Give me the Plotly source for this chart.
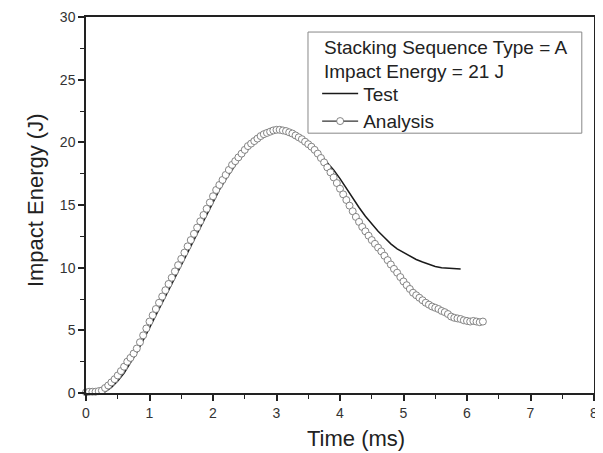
import plotly.graph_objects as go

# ---- data ----
test_time = [0.25, 0.3, 0.4, 0.5, 0.6, 0.7, 0.8, 0.9, 1.0, 1.1, 1.2, 1.3, 1.4, 1.5, 1.6,
             1.7, 1.8, 1.9, 2.0, 2.1, 2.2, 2.3, 2.4, 2.5, 2.6, 2.7, 2.8, 2.9, 3.0, 3.1,
             3.2, 3.3, 3.4, 3.5, 3.6, 3.7, 3.8, 3.9, 4.0, 4.1, 4.2, 4.3, 4.4, 4.5, 4.6,
             4.7, 4.8, 4.9, 5.0, 5.1, 5.2, 5.3, 5.4, 5.5, 5.6, 5.7, 5.8, 5.9]
test_energy = [0.0, 0.1, 0.45, 0.95, 1.6, 2.4, 3.25, 4.2, 5.2, 6.2, 7.2, 8.2, 9.2, 10.25, 11.25,
               12.25, 13.25, 14.25, 15.25, 16.2, 17.05, 17.85, 18.55, 19.15, 19.7, 20.15, 20.5, 20.8, 20.95, 21.0,
               20.9, 20.65, 20.3, 19.9, 19.45, 18.95, 18.4, 17.8, 17.1, 16.3, 15.55, 14.8, 14.1, 13.5, 12.9,
               12.4, 11.9, 11.5, 11.2, 10.9, 10.65, 10.45, 10.25, 10.1, 10.0, 9.95, 9.9, 9.9]

analysis_time = [round(0.05 * i, 2) for i in range(126)]
analysis_energy = [0.05, 0.1, 0.1, 0.1, 0.15, 0.2, 0.4, 0.6, 0.85, 1.1,
                   1.4, 1.75, 2.1, 2.5, 2.8, 3.15, 3.55, 4.05, 4.6, 5.15,
                   5.7, 6.2, 6.7, 7.2, 7.7, 8.2, 8.7, 9.2, 9.7, 10.2,
                   10.7, 11.2, 11.7, 12.2, 12.7, 13.2, 13.7, 14.2, 14.7, 15.2,
                   15.7, 16.2, 16.6, 17.0, 17.4, 17.8, 18.2, 18.5, 18.8, 19.1,
                   19.4, 19.7, 19.9, 20.1, 20.3, 20.5, 20.65, 20.75, 20.85, 20.95,
                   21.0, 21.0, 20.95, 20.9, 20.8, 20.7, 20.55, 20.4, 20.25, 20.05,
                   19.85, 19.65, 19.4, 19.1, 18.75, 18.4, 18.0, 17.6, 17.2, 16.75,
                   16.3, 15.85, 15.4, 14.95, 14.5, 14.05, 13.65, 13.25, 12.9, 12.55,
                   12.2, 11.9, 11.6, 11.3, 10.95, 10.6, 10.25, 9.9, 9.6, 9.25,
                   8.9, 8.6, 8.3, 8.0, 7.8, 7.6, 7.4, 7.2, 7.05, 6.9,
                   6.8, 6.7, 6.55, 6.45, 6.3, 6.1, 6.0, 5.95, 5.9, 5.8,
                   5.75, 5.7, 5.75, 5.7, 5.65, 5.7]

x_ticks = [0, 1, 2, 3, 4, 5, 6, 7, 8]
y_ticks = [0, 5, 10, 15, 20, 25, 30]
header_lines = ["Stacking Sequence Type = A", "Impact Energy = 21 J"]
x_title = "Time (ms)"
y_title = "Impact Energy (J)"

FONT = "Arial, Liberation Sans, sans-serif"

fig = go.Figure()
fig.add_trace(go.Scatter(x=test_time, y=test_energy, mode="lines", name="Test",
                         line=dict(color="#1a1a1a", width=1.5), cliponaxis=False))
fig.add_trace(go.Scatter(x=analysis_time, y=analysis_energy, mode="lines+markers", name="Analysis",
                         line=dict(color="#333333", width=1.2),
                         marker=dict(symbol="circle", size=7, color="white",
                                     line=dict(color="#777777", width=0.9)),
                         cliponaxis=False))

axis_common = dict(showline=True, linecolor="#222", linewidth=1.5, mirror=True,
                   ticks="outside", ticklen=6, tickwidth=1.5, tickcolor="#222",
                   showgrid=False, zeroline=False, automargin=False,
                   tickfont=dict(family=FONT, size=14, color="#333"))

fig.update_xaxes(range=[0, 8], tickvals=x_ticks,
                 minor=dict(dtick=0.5, ticks="outside", ticklen=4, tickwidth=1.2, tickcolor="#222"),
                 **axis_common)
fig.update_yaxes(range=[0, 30], tickvals=y_ticks,
                 minor=dict(dtick=2.5, ticks="outside", ticklen=4, tickwidth=1.2, tickcolor="#222"),
                 **axis_common)

# axis titles (placed as in the reference)
fig.add_annotation(text=x_title, xref="paper", yref="paper", x=0.531, y=-0.12,
                   xanchor="center", yanchor="middle", showarrow=False,
                   font=dict(family=FONT, size=22, color="#222"))
fig.add_annotation(text=y_title, xref="paper", yref="paper", x=-0.1004, y=0.513,
                   xanchor="center", yanchor="middle", showarrow=False, textangle=-90,
                   font=dict(family=FONT, size=22, color="#222"))

# legend frame and header text
fig.add_shape(type="rect", xref="paper", yref="paper", x0=0.437, x1=0.976, y0=0.691, y1=0.960,
              line=dict(color="#888", width=1), fillcolor="white", layer="below")
for text, yp in zip(header_lines, [0.920, 0.854]):
    fig.add_annotation(text=text, xref="paper", yref="paper", x=0.4646, y=yp,
                       xanchor="left", yanchor="middle", showarrow=False,
                       font=dict(family=FONT, size=19, color="#222"))

# page body has an 8px margin: shift the plot area so it lands where the reference has it
fig.update_layout(
    width=603, height=453,
    margin=dict(l=78, r=17, t=9, b=68),
    paper_bgcolor="white", plot_bgcolor="white",
    showlegend=True,
    legend=dict(x=0.455, y=0.847, xanchor="left", yanchor="top",
                bgcolor="rgba(0,0,0,0)", borderwidth=0,
                font=dict(family=FONT, size=19, color="#222"),
                tracegroupgap=0, itemwidth=36),
)

fig.write_html("out.html")
